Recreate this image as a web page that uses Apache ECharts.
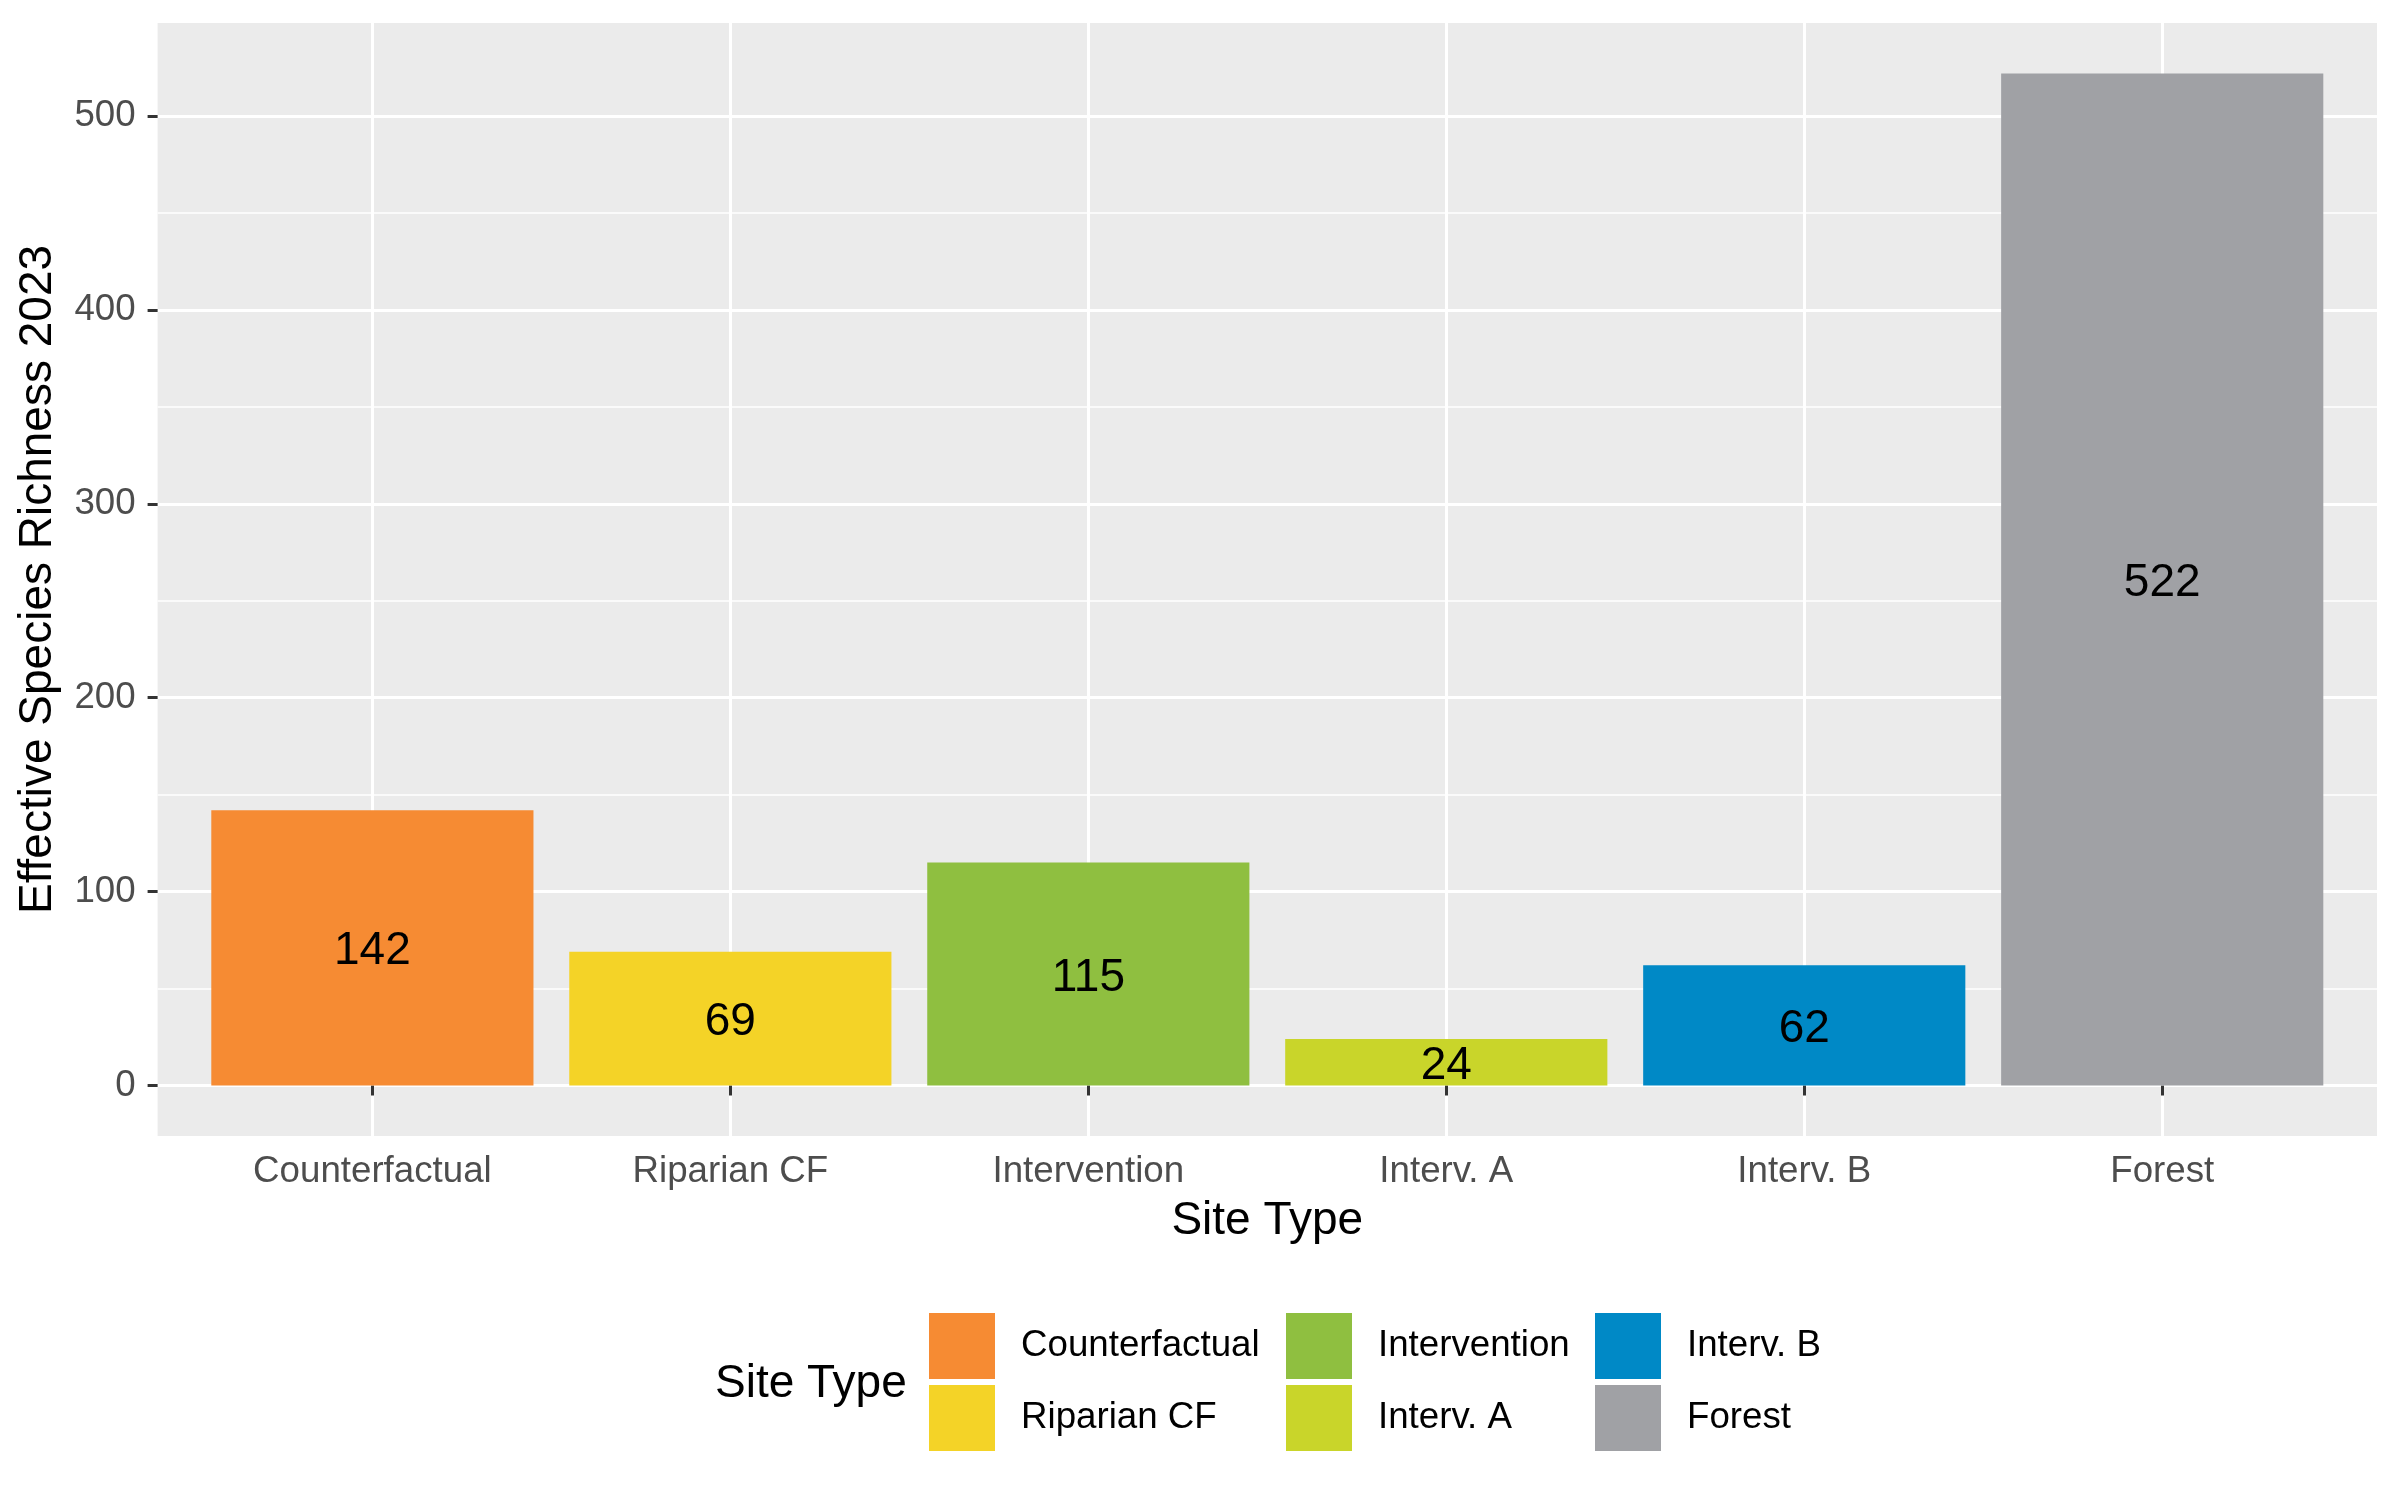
<!DOCTYPE html>
<html>
<head>
<meta charset="utf-8">
<script src="https://cdn.jsdelivr.net/npm/echarts@6/dist/echarts.min.js"></script>
<style>
  html, body { margin: 0; padding: 0; background: #fff; }
  #chart { width: 2400px; height: 1500px; }
</style>
</head>
<body>
<div id="chart"></div>
<script>
// data
const siteTypes = ['Counterfactual', 'Riparian CF', 'Intervention', 'Interv. A', 'Interv. B', 'Forest']
const richness = [142, 69, 115, 24, 62, 522]
const siteColors = ['#F68B33', '#F4D327', '#8FBF40', '#C9D52A', '#0089C6', '#A0A1A5']
const yTicks = [0, 100, 200, 300, 400, 500]
// legend goes column by column, two per column
const legendCols = [
    ['Counterfactual', 'Riparian CF'],
    ['Intervention', 'Interv. A'],
    ['Interv. B', 'Forest']
]

const FONT = 'Liberation Sans, Arial, sans-serif'
// y range = data range plus 5% each side (like ggplot)
const yMin = -26.1
const yMax = 548.1

// panel (grey area) and the inner grid from first to last category centre
const panel = { left: 157.6, top: 23, width: 2219.4, height: 1113 }
const unit = panel.width / 6.2
const inner = { left: panel.left + 0.6 * unit, top: panel.top, width: 5 * unit, height: panel.height }

const series = siteTypes.map((name, i) => ({
    name: name,
    type: 'bar',
    xAxisIndex: 1,
    yAxisIndex: 1,
    barWidth: '90%',
    barGap: '-100%',
    clip: false,
    itemStyle: { color: siteColors[i] },
    label: {
        show: true,
        position: 'inside',
        offset: [0, 4],
        fontFamily: FONT,
        fontSize: 46,
        color: '#000',
        textBorderWidth: 0
    },
    data: richness.map((v, j) => (j === i ? v : null))
}))

const legends = legendCols.map((col, k) => ({
    orient: 'vertical',
    left: [929, 1286, 1595][k],
    top: 1313,
    padding: 0,
    itemWidth: 66,
    itemHeight: 66,
    itemGap: 6,
    icon: 'rect',
    data: col,
    selectedMode: false,
    textStyle: {
        fontFamily: FONT,
        fontSize: 36.7,
        color: '#000',
        padding: [6, 0, 0, 21]
    }
}))

const option = {
    backgroundColor: '#fff',
    animation: false,
    title: {
        text: 'Site Type',
        left: 715,
        top: 1361,
        padding: 0,
        textStyle: { fontFamily: FONT, fontSize: 46, fontWeight: 'normal', color: '#000' }
    },
    legend: legends,
    grid: [
        // grey panel + horizontal grid lines
        Object.assign({ show: true, backgroundColor: '#EBEBEB', borderWidth: 0 }, panel),
        // bars and vertical grid lines
        Object.assign({ show: false }, inner)
    ],
    xAxis: [
        { gridIndex: 0, type: 'value', show: false, min: 0, max: 1 },
        {
            gridIndex: 1,
            type: 'category',
            data: siteTypes,
            boundaryGap: false,
            axisLine: { show: false },
            axisTick: { show: true, length: 10, lineStyle: { color: '#333', width: 3 } },
            axisLabel: { margin: 17, fontFamily: FONT, fontSize: 36.7, color: '#4D4D4D' },
            splitLine: { show: true, lineStyle: { color: '#fff', width: 3 } },
            name: 'Site Type',
            nameLocation: 'middle',
            nameGap: 62,
            nameTextStyle: { fontFamily: FONT, fontSize: 46, color: '#000' }
        }
    ],
    yAxis: [
        {
            gridIndex: 0,
            type: 'value',
            min: yMin,
            max: yMax,
            axisLine: { show: false },
            axisTick: { show: true, length: 10, lineStyle: { color: '#333', width: 3 }, customValues: yTicks },
            axisLabel: {
                margin: 22, fontFamily: FONT, fontSize: 36.7, color: '#4D4D4D',
                padding: [8, 0, 0, 0], customValues: yTicks
            },
            splitLine: { show: true, lineStyle: { color: '#fff', width: 3 } },
            minorTick: { show: false, splitNumber: 2 },
            minorSplitLine: { show: true, lineStyle: { color: '#fff', width: 1.5 } },
            name: 'Effective Species Richness 2023',
            nameLocation: 'middle',
            nameRotate: 90,
            nameGap: 96,
            nameTextStyle: { fontFamily: FONT, fontSize: 46, color: '#000' }
        },
        { gridIndex: 1, type: 'value', min: yMin, max: yMax, show: false }
    ],
    series: series
}

const chart = echarts.init(document.getElementById('chart'))
chart.setOption(option)
</script>
</body>
</html>
